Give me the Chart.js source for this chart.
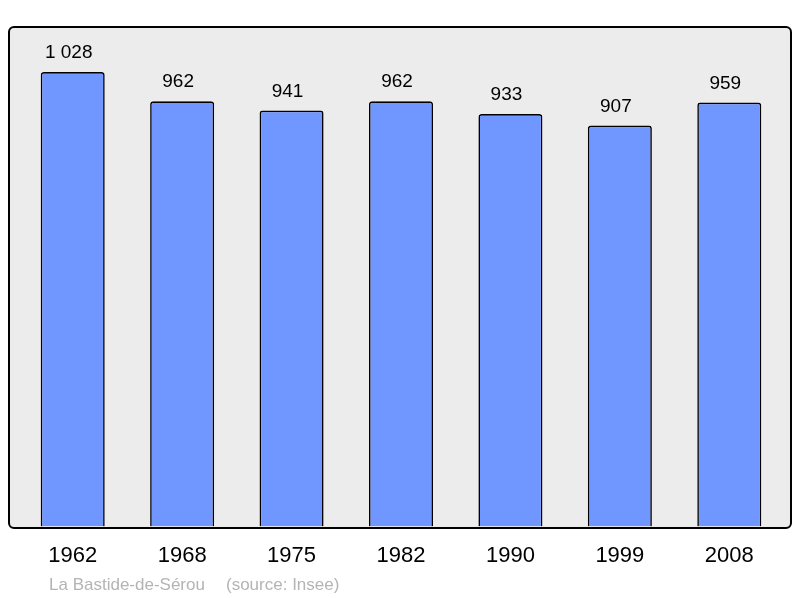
<!DOCTYPE html>
<html>
<head>
<meta charset="utf-8">
<script src="https://cdn.jsdelivr.net/npm/chart.js@4/dist/chart.umd.min.js"></script>
<style>
    html, body { margin: 0; padding: 0; background: #fff; }
    #wrap { width: 800px; height: 598px; }
</style>
</head>
<body>
<div id="wrap"><canvas id="popChart"></canvas></div>
<script>
// Données - population par recensement
const years = ['1962', '1968', '1975', '1982', '1990', '1999', '2008'];
const population = [1028, 962, 941, 962, 933, 907, 959];
const footerText = ['La Bastide-de-Sérou', '(source: Insee)'];

const colors = {
    bar: '#7097ff',
    panel: '#ececec',
    footer: '#b4b4b4'
};

// format français : 1 028
function formatNumber(v) {
    return String(v).replace(/\B(?=(\d{3})+(?!\d))/g, ' ');
}

// fond gris arrondi + texte source
const panelPlugin = {
    id: 'panel',
    beforeDraw(chart) {
        const ctx = chart.ctx;
        ctx.save();
        ctx.beginPath();
        ctx.roundRect(9, 27, 782, 501, 5);
        ctx.fillStyle = colors.panel;
        ctx.fill();
        ctx.restore();
    },
    afterDatasetsDraw(chart) {
        const ctx = chart.ctx;
        ctx.save();
        ctx.beginPath();
        ctx.roundRect(9, 27, 782, 501, 5);
        ctx.lineWidth = 2;
        ctx.strokeStyle = '#000';
        ctx.stroke();

        // valeurs au-dessus des barres (légèrement décalées à gauche)
        const meta = chart.getDatasetMeta(0);
        ctx.fillStyle = '#000';
        ctx.font = '19px "Liberation Sans", Arial, sans-serif';
        ctx.textAlign = 'center';
        ctx.textBaseline = 'alphabetic';
        meta.data.forEach((bar, i) => {
            ctx.fillText(formatNumber(population[i]), bar.x - 4, bar.y - 14);
        });

        // source
        ctx.fillStyle = colors.footer;
        ctx.font = '17px "Liberation Sans", Arial, sans-serif';
        ctx.textAlign = 'left';
        ctx.fillText(footerText[0], 49, 590);
        ctx.fillText(footerText[1], 226, 590);
        ctx.restore();
    }
};

const ctx = document.getElementById('popChart').getContext('2d');
const popChart = new Chart(ctx, {
    type: 'bar',
    data: {
        labels: years,
        datasets: [{
            data: population,
            backgroundColor: colors.bar,
            borderColor: '#000',
            borderWidth: 1.6,
            borderSkipped: 'bottom',
            borderRadius: { topLeft: 3, topRight: 3 },
            barPercentage: 0.585,
            categoryPercentage: 1
        }]
    },
    options: {
        responsive: true,
        maintainAspectRatio: false,
        animation: false,
        layout: {
            padding: { top: 27, left: 18, right: 16, bottom: 13 }
        },
        plugins: {
            legend: { display: false },
            tooltip: { enabled: false },
            title: { display: false }
        },
        scales: {
            x: {
                grid: { display: false, drawTicks: false },
                border: { display: false },
                ticks: {
                    color: '#000',
                    padding: 16,
                    font: { size: 22, family: '"Liberation Sans", Arial, sans-serif' }
                }
            },
            y: {
                display: false,
                min: 0,
                max: 1130
            }
        }
    },
    plugins: [panelPlugin]
});
</script>
</body>
</html>
